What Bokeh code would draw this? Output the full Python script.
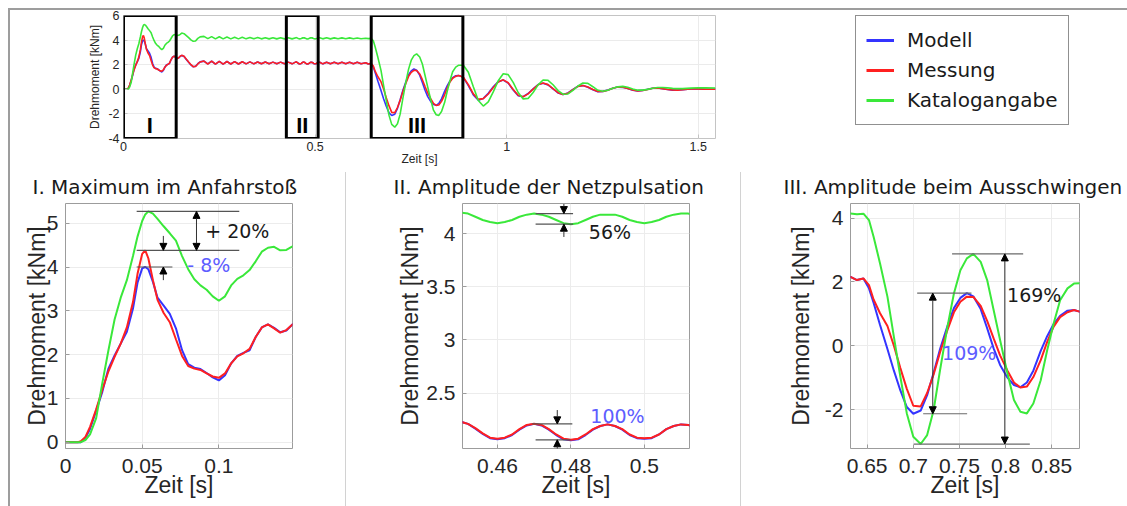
import numpy as np
from bokeh.plotting import figure
from bokeh.models import (ColumnDataSource, Range1d, FixedTicker, CustomJSTickFormatter,
                          Arrow, NormalHead, BoxAnnotation, Label, Legend, LegendItem, Spacer)
from bokeh.layouts import row, column
from bokeh.embed import file_html
from bokeh.resources import INLINE

# ---------------- data ----------------
zeit = [
    # Anfahrstoss
    0, 0.005, 0.008, 0.01, 0.013, 0.016, 0.02, 0.024, 0.028, 0.032, 0.036, 0.04, 0.044, 0.047,
    0.05, 0.052, 0.054, 0.057, 0.06, 0.064, 0.068, 0.072, 0.076, 0.08, 0.084, 0.088, 0.092,
    0.096, 0.1, 0.104, 0.108, 0.112, 0.116, 0.12, 0.124, 0.128, 0.132, 0.136, 0.14, 0.144, 0.148,
    # Uebergang
    0.152, 0.158, 0.164, 0.17, 0.176, 0.182, 0.188, 0.194, 0.2,
    0.21, 0.22, 0.23, 0.24, 0.25, 0.26, 0.27, 0.28, 0.29, 0.3, 0.31, 0.32, 0.33, 0.34, 0.35,
    0.36, 0.37, 0.38, 0.39, 0.4, 0.41, 0.42, 0.43, 0.44,
    # Netzpulsation
    0.45, 0.452, 0.454, 0.456, 0.458, 0.46, 0.462, 0.464, 0.466, 0.468, 0.47, 0.472, 0.474,
    0.476, 0.478, 0.48, 0.482, 0.484, 0.486, 0.488, 0.49, 0.492, 0.494, 0.496, 0.498, 0.5,
    0.502, 0.504, 0.506, 0.508, 0.51, 0.512,
    0.52, 0.53, 0.54, 0.55, 0.56, 0.57, 0.58, 0.59, 0.6, 0.61, 0.62,
    # Ausschwingen
    0.632, 0.639, 0.646, 0.652, 0.657, 0.664, 0.672, 0.679, 0.686, 0.693, 0.7, 0.708, 0.715,
    0.722, 0.729, 0.737, 0.744, 0.751, 0.758, 0.765, 0.773, 0.78, 0.787, 0.794, 0.802, 0.809,
    0.816, 0.823, 0.83, 0.838, 0.845, 0.852, 0.859, 0.867, 0.874, 0.88,
    0.887, 0.9, 0.913, 0.926, 0.939, 0.952, 0.965, 0.978, 0.991, 1.004, 1.017, 1.03, 1.043,
    1.056, 1.069, 1.082, 1.095, 1.108, 1.121, 1.134, 1.147, 1.16, 1.173, 1.186, 1.199, 1.212,
    1.225, 1.238, 1.251, 1.264, 1.277, 1.29, 1.303, 1.316, 1.329, 1.342, 1.355, 1.368, 1.381,
    1.394, 1.407, 1.42, 1.433, 1.446, 1.459, 1.48, 1.5, 1.52, 1.545,
]

modell = [
    0, 0, 0, 0, 0.1, 0.3, 0.72, 1.15, 1.68, 1.98, 2.25, 2.52, 3.05, 3.65,
    3.97, 4.0, 3.95, 3.66, 3.3, 3.12, 2.93, 2.6, 2.1, 1.78, 1.7, 1.67, 1.58,
    1.48, 1.41, 1.53, 1.8, 1.97, 2.04, 2.1, 2.4, 2.62, 2.69, 2.61, 2.51, 2.55, 2.69,
    2.74, 2.66, 2.43, 2.2, 1.98, 1.83, 1.87, 2.08, 2.23,
    2.29, 2.06, 2.28, 2.05, 2.27, 2.05, 2.26, 2.06, 2.25, 2.06, 2.24, 2.07, 2.23, 2.07, 2.22,
    2.07, 2.22, 2.07, 2.21, 2.07, 2.21, 2.07, 2.21, 2.07,
    2.23, 2.21, 2.165, 2.115, 2.075, 2.065, 2.075, 2.105, 2.155, 2.195, 2.21, 2.195, 2.155,
    2.105, 2.065, 2.055, 2.065, 2.105, 2.155, 2.19, 2.205, 2.19, 2.155, 2.105, 2.075, 2.07,
    2.075, 2.11, 2.16, 2.19, 2.205, 2.2,
    2.065, 2.2, 2.07, 2.195, 2.075, 2.195, 2.08, 2.19, 2.08, 2.19, 2.08,
    2.16, 2.06, 2.11, 1.8, 1.35, 0.65, -0.1, -0.78, -1.4, -1.92, -2.13, -2.03, -1.55,
    -0.85, -0.1, 0.62, 1.18, 1.5, 1.65, 1.55, 1.15, 0.55, -0.08, -0.6, -1.0, -1.23,
    -1.3, -1.15, -0.78, -0.16, 0.3, 0.68, 0.94, 1.1, 1.12, 1.07,
    0.95, 0.3, -0.45, -0.88, -0.74, -0.33, 0.2, 0.62, 0.76, 0.5, -0.05, -0.52, -0.6,
    -0.34, 0.04, 0.39, 0.5, 0.36, 0.03, -0.3, -0.43, -0.3, -0.01, 0.25, 0.3, 0.17,
    -0.04, -0.19, -0.17, -0.05, 0.09, 0.18, 0.16, 0.06, -0.07, -0.13, -0.09, 0.0, 0.09,
    0.1, 0.05, -0.015, -0.065, -0.06, -0.03, 0.03, 0.03, 0.01, 0.0,
]

messung = [
    0, 0, 0, 0.02, 0.12, 0.35, 0.75, 1.2, 1.62, 1.95, 2.25, 2.62, 3.2, 3.85,
    4.3, 4.38, 4.2, 3.7, 3.25, 2.95, 2.74, 2.35, 1.97, 1.74, 1.68, 1.65, 1.57,
    1.5, 1.47, 1.57, 1.8, 1.96, 2.03, 2.13, 2.4, 2.62, 2.69, 2.6, 2.5, 2.56, 2.69,
    2.76, 2.68, 2.45, 2.22, 2.0, 1.84, 1.86, 2.06, 2.22,
    2.3, 2.05, 2.29, 2.04, 2.27, 2.05, 2.26, 2.06, 2.25, 2.06, 2.24, 2.07, 2.23, 2.07, 2.22,
    2.07, 2.22, 2.07, 2.21, 2.07, 2.21, 2.07, 2.21, 2.07,
    2.23, 2.21, 2.17, 2.12, 2.08, 2.07, 2.08, 2.11, 2.16, 2.2, 2.21, 2.2, 2.16,
    2.11, 2.07, 2.06, 2.07, 2.11, 2.16, 2.19, 2.205, 2.19, 2.16, 2.11, 2.08, 2.075,
    2.08, 2.11, 2.16, 2.19, 2.205, 2.2,
    2.07, 2.2, 2.07, 2.2, 2.08, 2.2, 2.08, 2.19, 2.08, 2.19, 2.08,
    2.16, 2.06, 2.11, 1.9, 1.45, 1.02, 0.62, 0.0, -0.7, -1.35, -1.88, -1.9, -1.48,
    -0.9, -0.2, 0.5, 1.05, 1.38, 1.54, 1.53, 1.25, 0.78, 0.23, -0.3, -0.78, -1.15,
    -1.31, -1.28, -0.98, -0.45, 0.12, 0.6, 0.9, 1.05, 1.12, 1.07,
    0.98, 0.37, -0.375, -0.82, -0.76, -0.38, 0.15, 0.6, 0.77, 0.53, -0.01, -0.49, -0.6,
    -0.37, 0.01, 0.37, 0.51, 0.38, 0.05, -0.28, -0.43, -0.32, -0.03, 0.24, 0.31, 0.19,
    -0.02, -0.18, -0.18, -0.07, 0.08, 0.18, 0.17, 0.07, -0.06, -0.13, -0.1, -0.01, 0.08,
    0.1, 0.056, -0.011, -0.062, -0.065, -0.035, 0.03, 0.035, 0.01, 0.0,
]

katalog = [
    0, 0, 0, 0, 0.05, 0.18, 0.55, 1.35, 2.1, 2.8, 3.3, 3.7, 4.25, 4.7,
    5.05, 5.2, 5.27, 5.22, 5.1, 4.93, 4.77, 4.6, 4.25, 3.95, 3.72, 3.58, 3.48,
    3.33, 3.23, 3.33, 3.58, 3.73, 3.81, 3.93, 4.13, 4.35, 4.44, 4.46, 4.38, 4.39, 4.47,
    4.57, 4.52, 4.36, 4.2, 4.02, 3.9, 3.93, 4.14, 4.26,
    4.3, 4.12, 4.28, 4.1, 4.27, 4.1, 4.25, 4.1, 4.24, 4.1, 4.23, 4.1, 4.22, 4.1, 4.21,
    4.1, 4.2, 4.1, 4.2, 4.1, 4.2, 4.1, 4.2, 4.1,
    4.2, 4.19, 4.16, 4.13, 4.11, 4.1, 4.11, 4.13, 4.16, 4.18, 4.19, 4.18, 4.16,
    4.13, 4.1, 4.09, 4.1, 4.13, 4.16, 4.18, 4.18, 4.18, 4.16, 4.13, 4.11, 4.1,
    4.11, 4.13, 4.16, 4.18, 4.19, 4.19,
    4.1, 4.19, 4.1, 4.18, 4.11, 4.18, 4.11, 4.18, 4.11, 4.17, 4.11,
    4.15, 4.12, 4.14, 3.94, 3.42, 2.58, 1.54, 0.28, -0.97, -2.12, -2.85, -3.08, -2.8,
    -2.02, -0.76, 0.6, 1.64, 2.37, 2.74, 2.88, 2.63, 2.06, 1.12, 0.18, -0.87, -1.7,
    -2.07, -2.12, -1.81, -1.08, -0.14, 0.7, 1.43, 1.8, 1.95, 1.96,
    1.96, 1.38, 0.21, -0.91, -1.36, -1.03, -0.21, 0.7, 1.26, 1.19, 0.56, -0.26, -0.78,
    -0.74, -0.26, 0.36, 0.76, 0.73, 0.37, -0.1, -0.4, -0.38, -0.09, 0.27, 0.51, 0.48,
    0.21, -0.08, -0.16, -0.07, 0.08, 0.2, 0.24, 0.16, 0.03, -0.07, -0.07, -0.006, 0.082,
    0.143, 0.145, 0.115, 0.076, 0.052, 0.055, 0.096, 0.12, 0.115, 0.11,
]

serien = ["Modell", "Messung", "Katalogangabe"]

top_xticks = [0, 0.5, 1, 1.5]
top_yticks = [-4, -2, 0, 2, 4, 6]
p1_xticks = [0, 0.05, 0.1]
p1_yticks = [0, 1, 2, 3, 4, 5]
p2_xticks = [0.46, 0.48, 0.5]
p2_yticks = [2.5, 3, 3.5, 4]
p3_xticks = [0.65, 0.7, 0.75, 0.8, 0.85]
p3_yticks = [-2, 0, 2, 4]

fenster = [(0.0, 0.1375, "I"), (0.425, 0.508, "II"), (0.6465, 0.8857, "III")]
titel = ["I. Maximum im Anfahrstoß", "II. Amplitude der Netzpulsation",
         "III. Amplitude beim Ausschwingen"]

# ---------------- styling ----------------
AX_FONT = "Liberation Sans"
SL_FONT = "DejaVu Sans"
BLUE, RED, GREEN = "#3434ff", "#ff2020", "#3ae83a"
TXTBLUE = "#5d5dff"
TXT = "#262626"

assert len(zeit) == len(modell) == len(messung) == len(katalog)
t = np.array(zeit)
mo = np.array(modell)
me = np.array(messung)
ka = np.array(katalog)
src = ColumnDataSource(dict(t=zeit, modell=modell, messung=messung, katalog=katalog))

FMT_CODE = "return String(Math.round(tick*1000)/1000);"


def make_fig(w, h, xr, yr, borders, xticks, yticks, tick_fs, lab_fs, lw,
             outline, grid, title=None, title_offset=0):
    lb, rb, tb, bb = borders
    kw = {}
    if title is not None:
        kw["title"] = title
    p = figure(width=w, height=h, x_range=Range1d(*xr), y_range=Range1d(*yr),
               output_backend="svg", toolbar_location=None,
               min_border_left=lb, min_border_right=rb, min_border_top=tb,
               min_border_bottom=bb, **kw)
    p.xaxis.ticker = FixedTicker(ticks=xticks)
    p.yaxis.ticker = FixedTicker(ticks=yticks)
    for ax in (p.xaxis[0], p.yaxis[0]):
        ax.formatter = CustomJSTickFormatter(code=FMT_CODE)
        ax.axis_line_color = None
        ax.major_tick_line_color = outline
        ax.major_tick_in = 4
        ax.major_tick_out = 0
        ax.minor_tick_line_color = None
        ax.major_label_text_font = AX_FONT
        ax.major_label_text_font_size = tick_fs
        ax.major_label_text_color = TXT
        ax.axis_label_text_font = AX_FONT
        ax.axis_label_text_font_size = lab_fs
        ax.axis_label_text_font_style = "normal"
        ax.axis_label_text_color = TXT
    p.yaxis.axis_label = "Drehmoment [kNm]"
    p.xaxis.axis_label = "Zeit [s]"
    p.outline_line_color = outline
    p.outline_line_width = 1
    p.grid.grid_line_color = grid
    p.background_fill_color = "white"
    p.border_fill_color = "white"
    if title is not None:
        p.title.align = "left"
        p.title.vertical_align = "top"
        p.title.offset = title_offset
        p.title.text_font = SL_FONT
        p.title.text_font_size = "20px"
        p.title.text_font_style = "normal"
        p.title.text_color = "#1a1a1a"
        p.title.standoff = 6
    p.line("t", "modell", source=src, line_color=BLUE, line_width=lw)
    p.line("t", "messung", source=src, line_color=RED, line_width=lw)
    p.line("t", "katalog", source=src, line_color=GREEN, line_width=lw)
    return p


def head():
    return NormalHead(size=7, fill_color="black", line_color="black", line_width=1)


def arrow(p, x, y0, y1, both=False, color="#333333"):
    p.add_layout(Arrow(start=head() if both else None, end=head(),
                       x_start=x, y_start=y0, x_end=x, y_end=y1,
                       line_color=color, line_width=1))


def hlines(p, xs0, xs1, ys, color):
    p.segment(x0=xs0, y0=ys, x1=xs1, y1=ys, line_color=color, line_width=1.2)


def pct(p, x, y, text, color):
    p.add_layout(Label(x=x, y=y, text=text, text_font=SL_FONT, text_font_size="19px",
                       text_color=color, text_align="left", text_baseline="middle"))


def panel_axes(p, ylab_standoff):
    p.xaxis.major_label_standoff = 10
    p.yaxis.major_label_standoff = 7
    p.xaxis.axis_label_standoff = -4
    p.yaxis.axis_label_standoff = ylab_standoff


# ---------------- top overview plot ----------------
TOP_H = 158
top = make_fig(710, TOP_H, (0, 1.545), (-4, 6), (113, 5, 4, 30), top_xticks, top_yticks,
               "12.5px", "12px", 1.6, "#c4c4c4", "#ebebeb")
top.xaxis.major_label_standoff = 3
top.yaxis.major_label_standoff = 4
top.xaxis.axis_label_standoff = -2
top.yaxis.axis_label_standoff = 3
for (a, b, name) in fenster:
    top.add_layout(BoxAnnotation(left=a, right=b, fill_alpha=0, line_color="black",
                                 line_alpha=1.0, line_width=3))
    top.add_layout(Label(x=(a + b) / 2, y=-2.96, text=name, text_font=AX_FONT,
                         text_font_size="22px", text_font_style="bold", text_color="black",
                         text_align="center", text_baseline="middle"))

# ---------------- legend figure ----------------
lg = figure(width=407, height=TOP_H, x_range=Range1d(10, 11), y_range=Range1d(10, 11),
            output_backend="svg", toolbar_location=None,
            min_border_left=135, min_border_top=5, min_border_right=0, min_border_bottom=0,
            x_axis_location=None, y_axis_location=None)
lg.grid.visible = False
lg.outline_line_color = None
items = []
for name, key, col in zip(serien, ["modell", "messung", "katalog"], [BLUE, RED, GREEN]):
    r = lg.line("t", key, source=src, line_color=col, line_width=3)
    items.append(LegendItem(label=name, renderers=[r]))
leg = Legend(items=items, location="top_left", border_line_color="#222222",
             border_line_width=1.5, padding=10, spacing=2, label_height=28,
             glyph_height=28, glyph_width=28, label_standoff=13, margin=0,
             label_text_font=SL_FONT, label_text_font_size="20px",
             label_text_color="#1a1a1a", background_fill_color="white")
lg.add_layout(leg)

# ---------------- bottom panels (common frame rows) ----------------
PANEL_H = 338
TB, BB = 35, 58

p1 = make_fig(335, PANEL_H, (0, 0.148), (-0.144, 5.45), (55, 53, TB, BB), p1_xticks, p1_yticks,
              "21px", "23px", 2, "#9c9c9c", "#ececec", title=titel[0], title_offset=-33)
panel_axes(p1, -6)
win1 = t <= 0.148
g1, r1, b1 = ka[win1].max(), me[win1].max(), mo[win1].max()
hlines(p1, [0.0464, 0.0464, 0.0464], [0.1133, 0.1133, 0.0697], [g1, r1, b1], "#555555")
arrow(p1, 0.0854, r1, g1, both=True)
arrow(p1, 0.0638, r1 + 0.33, r1)
arrow(p1, 0.0638, b1 - 0.3, b1)
pct(p1, 0.0911, 4.83, "+ 20%", "#1a1a1a")
pct(p1, 0.0794, 4.05, "- 8%", TXTBLUE)

p2 = make_fig(394, PANEL_H, (0.4505, 0.5123), (1.978, 4.285), (116, 51, TB, BB), p2_xticks,
              p2_yticks, "21px", "23px", 2, "#9c9c9c", "#ececec", title=titel[1],
              title_offset=-69)
panel_axes(p2, 0)
g_hi = ka[(t >= 0.46) & (t <= 0.48)].max()
g_lo = ka[(t >= 0.47) & (t <= 0.49)].min()
r_hi = me[(t >= 0.46) & (t <= 0.48)].max()
r_lo = me[(t >= 0.47) & (t <= 0.49)].min()
hlines(p2, [0.4704, 0.4704, 0.4695, 0.4704], [0.4806, 0.4806, 0.4804, 0.4799],
       [g_hi, g_lo, r_hi, r_lo], "#555555")
arrow(p2, 0.4781, g_hi + 0.09, g_hi)
arrow(p2, 0.4781, g_lo - 0.12, g_lo)
arrow(p2, 0.4763, r_hi + 0.13, r_hi)
arrow(p2, 0.4763, r_lo - 0.1, r_lo)
pct(p2, 0.4849, 4.016, "56%", "#1a1a1a")
pct(p2, 0.4853, 2.284, "100%", TXTBLUE)

p3 = make_fig(386, PANEL_H, (0.632, 0.88), (-3.22, 4.46), (109, 48, TB, BB), p3_xticks,
              p3_yticks, "21px", "23px", 2, "#9c9c9c", "#ececec", title=titel[2],
              title_offset=-67)
panel_axes(p3, 8)
gmax = ka[(t >= 0.74) & (t <= 0.8)].max()
gmin = ka[(t >= 0.68) & (t <= 0.74)].min()
bmax = mo[(t >= 0.74) & (t <= 0.8)].max()
bmin = mo[(t >= 0.68) & (t <= 0.74)].min()
hlines(p3, [0.742, 0.7005, 0.7042, 0.7107], [0.819, 0.8262, 0.763, 0.7583],
       [gmax, gmin, bmax, bmin], "#6a6a6a")
arrow(p3, 0.7991, gmin, gmax, both=True)
arrow(p3, 0.7211, bmin, bmax, both=True)
pct(p3, 0.8016, 1.588, "169%", "#1a1a1a")
pct(p3, 0.7312, -0.24, "109%", TXTBLUE)


# ---------------- page layout ----------------
def line_spacer(w, h, color):
    return Spacer(width=w, height=h, margin=0, styles={"background-color": color})


def separator():
    return column(line_spacer(1, 4, "#ffffff"), line_spacer(1, PANEL_H - 4, "#d2d2d2"),
                  spacing=0)


top_row = row(top, lg, spacing=0)
bottom_row = row(p1, separator(), p2, separator(), p3, spacing=0)
inner = column(top_row, bottom_row, spacing=0)
content = column(line_spacer(1119, 2, "#9d9d9d"),
                 row(line_spacer(2, 496, "#9d9d9d"), inner, spacing=0),
                 spacing=0)
root = column(line_spacer(1127, 8, "#ffffff"),
              row(line_spacer(8, 498, "#ffffff"), content, spacing=0),
              spacing=0)

open("out.html", "w").write(file_html(root, INLINE, title="Drehmoment"))
